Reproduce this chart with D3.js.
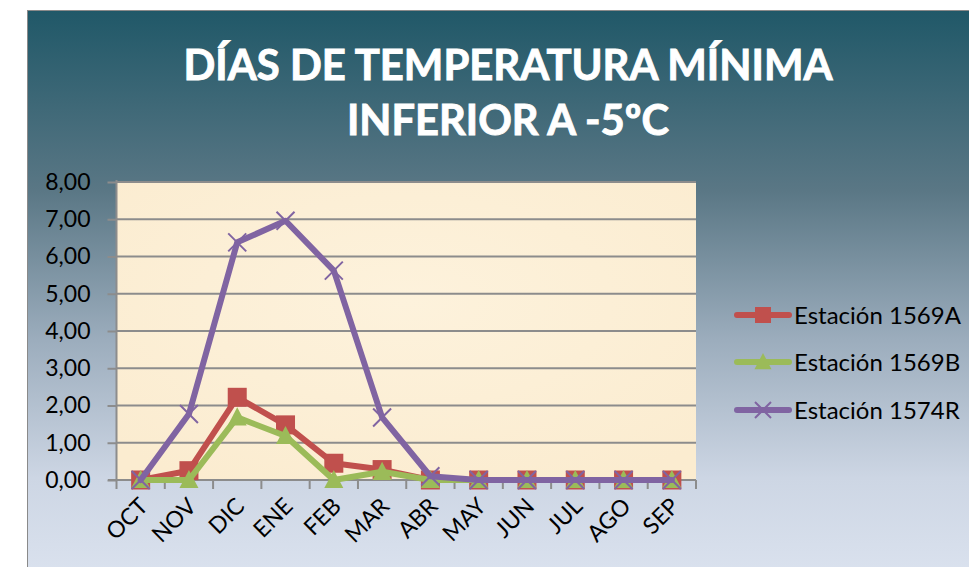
<!DOCTYPE html>
<html><head><meta charset="utf-8">
<script src="https://cdn.jsdelivr.net/npm/d3@7"></script>
<style>html,body{margin:0;padding:0;background:#fff;}svg{display:block;}</style>
</head><body>
<svg id="chart" width="969" height="567"></svg>
<script>
const months = ["OCT","NOV","DIC","ENE","FEB","MAR","ABR","MAY","JUN","JUL","AGO","SEP"];
const est1569A = [0, 0.25, 2.22, 1.48, 0.45, 0.28, 0, 0, 0, 0, 0, 0];
const est1569B = [0, 0, 1.68, 1.18, 0, 0.22, 0, 0, 0, 0, 0, 0];
const est1574R = [0, 1.77, 6.38, 6.96, 5.62, 1.68, 0.1, 0, 0, 0, 0, 0];
const seriesNames = ["Estación 1569A","Estación 1569B","Estación 1574R"];
const yTicks = [0,1,2,3,4,5,6,7,8];
const titleLines = ["DÍAS DE TEMPERATURA MÍNIMA","INFERIOR A -5ºC"];

const svg = d3.select("#chart");
const defs = svg.append("defs");
const bg = defs.append("linearGradient").attr("id","bg").attr("x1",0).attr("y1",0).attr("x2",0).attr("y2",1);
[[0,"#205868"],[0.3,"#5a7785"],[0.55,"#9cadbd"],[0.78,"#cdd6e4"],[1,"#dfe6f2"]].forEach(s=>bg.append("stop").attr("offset",s[0]).attr("stop-color",s[1]));
const pg = defs.append("radialGradient").attr("id","pg").attr("cx",0.5).attr("cy",0.4).attr("r",0.7);
[[0,"#fdf2dc"],[1,"#fbecd0"]].forEach(s=>pg.append("stop").attr("offset",s[0]).attr("stop-color",s[1]));

const FONT = "Lato, 'Open Sans', sans-serif";

// frame
svg.append("rect").attr("x",27.5).attr("y",10.5).attr("width",969).attr("height",600)
  .attr("fill","url(#bg)").attr("stroke","#8a8a8a").attr("stroke-width",1);

// title
const tl = [{t:titleLines[0], y:80, w:649},{t:titleLines[1], y:135, w:322}];
svg.selectAll("text.title").data(tl).join("text").attr("class","title")
  .attr("x",508).attr("y",d=>d.y).attr("text-anchor","middle")
  .attr("font-family",FONT).attr("font-weight","bold").attr("font-size",42)
  .attr("fill","#ffffff").attr("stroke","#ffffff").attr("stroke-width",0.9)
  .attr("textLength",d=>d.w).attr("lengthAdjust","spacingAndGlyphs")
  .text(d=>d.t);

const x = d3.scaleBand().domain(months).range([116.5, 696]);
const y = d3.scaleLinear().domain([0,8]).range([480, 182]);
const xc = m => x(m) + x.bandwidth()/2;

// plot area
svg.append("rect").attr("x",116.5).attr("y",182).attr("width",696-116.5).attr("height",298)
  .attr("fill","url(#pg)");

// grid
svg.append("g").selectAll("line").data(yTicks.slice(1)).join("line")
  .attr("x1",116.5).attr("x2",696).attr("y1",d=>y(d)).attr("y2",d=>y(d))
  .attr("stroke","#8c8c8c").attr("stroke-width",2);

// y axis
const yAxis = d3.axisLeft(y).tickValues(yTicks).tickSize(9).tickPadding(17)
  .tickFormat(d=>d3.format(".2f")(d).replace(".",","));
const gy = svg.append("g").attr("transform","translate(116.5,0)").call(yAxis);
gy.select(".domain").attr("stroke","#8c8c8c").attr("stroke-width",2).attr("d","M0,180V480");
gy.selectAll(".tick line").attr("stroke","#8c8c8c").attr("stroke-width",2);
gy.selectAll(".tick text").attr("font-family",FONT).attr("font-size",23).attr("fill","#000");

// x axis
const xAxis = d3.axisBottom(x).tickSize(0).tickFormat(d=>d);
const gx = svg.append("g").attr("transform","translate(0,480)").call(xAxis);
gx.select(".domain").attr("stroke","#8c8c8c").attr("stroke-width",2).attr("d","M108,0H696");
gx.selectAll(".tick text").attr("font-family",FONT).attr("font-size",23).attr("fill","#000")
  .attr("text-anchor","end").attr("x",0).attr("y",0).attr("dx",0).attr("dy","0.72em")
  .attr("transform","translate(-3,16) rotate(-45)");
const bounds = months.map(m=>x(m)).concat([x(months[months.length-1])+x.bandwidth()]);
svg.append("g").selectAll("line").data(bounds).join("line")
  .attr("x1",d=>d).attr("x2",d=>d).attr("y1",480).attr("y2",489)
  .attr("stroke","#8c8c8c").attr("stroke-width",2);

// series
const colors = ["#c0504d","#9bbb59","#8064a2"];
const data = [est1569A, est1569B, est1574R];
const line = d3.line().x((d,i)=>xc(months[i])).y(d=>y(d));
function marker(g, k, cx, cy, s){
  if(k===0){ g.append("rect").attr("x",cx-s/2).attr("y",cy-s/2).attr("width",s).attr("height",s).attr("fill",colors[0]); }
  else if(k===1){ const h=s*0.95; g.append("path").attr("d",`M${cx},${cy-h/2-2}L${cx+s/2+1},${cy+h/2}L${cx-s/2-1},${cy+h/2}Z`).attr("fill",colors[1]); }
  else { const r=s/2; g.append("path").attr("d",`M${cx-r},${cy-r}L${cx+r},${cy+r}M${cx-r},${cy+r}L${cx+r},${cy-r}`).attr("stroke",colors[2]).attr("stroke-width",2).attr("fill","none"); }
}
data.forEach((vals,k)=>{
  const g = svg.append("g");
  g.append("path").datum(vals).attr("d",line).attr("fill","none").attr("stroke",colors[k])
    .attr("stroke-width",6).attr("stroke-linejoin","round").attr("stroke-linecap","round");
  vals.forEach((v,i)=>marker(g,k,xc(months[i]),y(v),k===1?17:(k===0?19:18)));
});

// legend
const ly = [315, 362, 410];
seriesNames.forEach((n,k)=>{
  const g = svg.append("g");
  g.append("line").attr("x1",737).attr("x2",789).attr("y1",ly[k]).attr("y2",ly[k])
    .attr("stroke",colors[k]).attr("stroke-width",6).attr("stroke-linecap","round");
  marker(g,k,763,ly[k],k===1?15:16);
  g.append("text").attr("x",794).attr("y",ly[k]).attr("dy","0.36em")
    .attr("font-family",FONT).attr("font-size",24).attr("fill","#000").text(n);
});
</script>
</body></html>
